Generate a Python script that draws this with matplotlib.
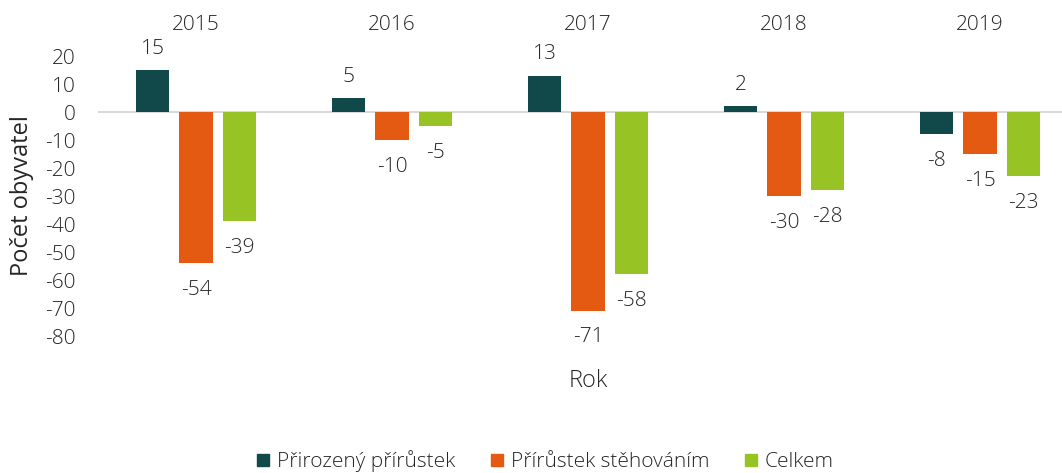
import matplotlib
matplotlib.use("Agg")
import matplotlib.pyplot as plt
import numpy as np

years = ["2015", "2016", "2017", "2018", "2019"]
series = ["Přirozený přírůstek", "Přírůstek stěhováním", "Celkem"]
prirozeny = [15, 5, 13, 2, -8]
stehovani = [-54, -10, -71, -30, -15]
celkem = [-39, -5, -58, -28, -23]
colors = ["#11494b", "#e55a13", "#97c424"]

plt.rcParams["font.family"] = ["Open Sans", "DejaVu Sans"]
plt.rcParams["font.weight"] = "light"
plt.rcParams["axes.unicode_minus"] = False
txt = "#262626"
fs = 15

fig = plt.figure(figsize=(10.62, 4.73), dpi=100)
ax = fig.add_axes([98 / 1062, 1 - 336 / 473, 980 / 1062, 280 / 473])

x = np.arange(len(years))
w, step = 0.173, 0.222
for k, (vals, c, name) in enumerate(zip([prirozeny, stehovani, celkem], colors, series)):
    xs = x + (k - 1) * step
    ax.bar(xs, vals, width=w, color=c, label=name, zorder=3)
    for xi, v in zip(xs, vals):
        if v >= 0:
            ax.annotate(str(v), (xi, v), xytext=(0, 8), textcoords="offset points",
                        ha="center", va="bottom", fontsize=fs, color=txt)
        else:
            ax.annotate(str(v), (xi, v), xytext=(0, -12), textcoords="offset points",
                        ha="center", va="top", fontsize=fs, color=txt)

ax.set_xlim(-0.5, len(years) - 0.5)
ax.set_ylim(-80, 20)
ax.set_yticks(np.arange(-80, 21, 10))
ax.tick_params(axis="y", length=0, pad=16, labelsize=fs, labelcolor=txt)
ax.set_xticks([])
for s in ax.spines.values():
    s.set_visible(False)
ax.axhline(0, color="#d9d9d9", lw=1.5, zorder=2)

for xi, yr in zip(x, years):
    ax.text(xi, 1.11, yr, transform=ax.get_xaxis_transform(), ha="center", va="center",
            fontsize=fs, color=txt)

ax.set_ylabel("Počet obyvatel", fontsize=17, color=txt)
ax.yaxis.set_label_coords(-64 / 980, 0.5)
fig.text(588 / 1062, 1 - 381 / 473, "Rok", ha="center", va="center", fontsize=17, color=txt)

handles = [plt.Line2D([], [], marker="s", ls="", color=c, markersize=8.6) for c in colors]
fig.legend(handles, series, loc="center", bbox_to_anchor=(543 / 1062, 1 - 461 / 473), ncol=3,
           frameon=False, fontsize=15, handletextpad=0.17, columnspacing=1.5,
           handlelength=1.0, labelcolor=txt)

fig.savefig("out.png", dpi=100)
